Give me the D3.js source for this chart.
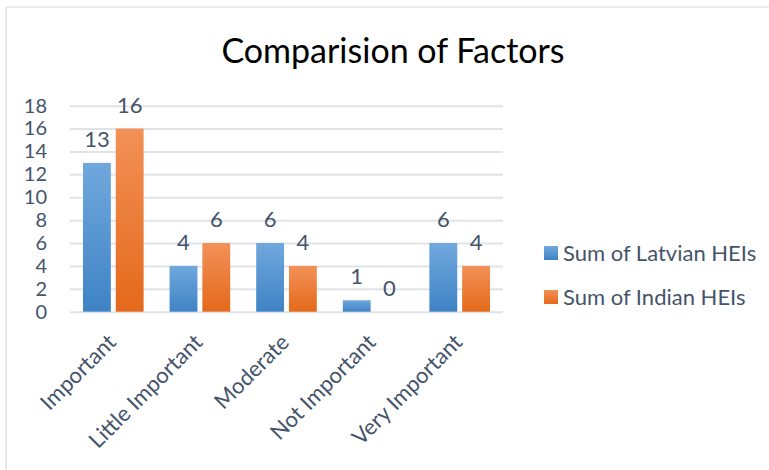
<!DOCTYPE html>
<html><head><meta charset="utf-8">
<script src="https://cdn.jsdelivr.net/npm/d3@7"></script>
<style>
html,body{margin:0;padding:0;background:#fff;}
svg{display:block;font-family:Lato,"Open Sans",sans-serif;}
</style></head>
<body>
<svg id="chart" width="769" height="470"></svg>
<script>
const categories = ["Important","Little Important","Moderate","Not Important","Very Important"];
const seriesNames = ["Sum of Latvian HEIs","Sum of Indian HEIs"];
const latvian = [13,4,6,1,6];
const indian = [16,6,4,0,4];
const yTicks = [0,2,4,6,8,10,12,14,16,18];
const titleText = "Comparision of Factors";

const svg = d3.select("#chart");
const x0 = d3.scaleBand().domain(categories).range([70,503]).paddingInner(0.3).paddingOuter(0.15);
const x1 = d3.scaleBand().domain(seriesNames).range([0, x0.bandwidth()]).paddingInner(0.15);
const y = d3.scaleLinear().domain([0,18]).range([311.7,105.7]);
const textCol = "#44546a";
const fs = 22;

// frame
svg.append("line").attr("x1",6).attr("x2",6).attr("y1",7).attr("y2",470).attr("stroke","#e4e7ec").attr("stroke-width",2);
svg.append("line").attr("x1",6).attr("x2",769).attr("y1",7).attr("y2",7).attr("stroke","#e4e7ec").attr("stroke-width",1.5);

const defs = svg.append("defs");
const grads = [["gBlue","#70a8dd","#3f83c5"],["gOrange","#f29157","#e4691b"]];
grads.forEach(([id,c1,c2])=>{
  const g = defs.append("linearGradient").attr("id",id).attr("x1",0).attr("x2",0).attr("y1",0).attr("y2",1);
  g.append("stop").attr("offset","0%").attr("stop-color",c1);
  g.append("stop").attr("offset","100%").attr("stop-color",c2);
});
const fills = {[seriesNames[0]]:"url(#gBlue)",[seriesNames[1]]:"url(#gOrange)"};

// title
svg.append("text").attr("x",393).attr("y",63).attr("text-anchor","middle")
  .attr("font-size",34).attr("fill","#000").text(titleText);

// y axis
const yAxis = d3.axisLeft(y).tickValues(yTicks).tickSize(-(503-70)).tickPadding(23);
const gy = svg.append("g").attr("transform","translate(70,0)").call(yAxis);
gy.select(".domain").remove();
gy.selectAll(".tick line").attr("stroke","#e0e4e9").attr("stroke-width",2);
gy.selectAll(".tick text").attr("font-size",20).attr("fill",textCol).attr("font-family","Lato, sans-serif");

// x axis labels
const xAxis = d3.axisBottom(x0).tickSize(0).tickPadding(0);
const gx = svg.append("g").attr("transform","translate(0,311.7)").call(xAxis);
gx.select(".domain").remove();
gx.selectAll(".tick text")
  .attr("font-size",fs).attr("fill",textCol).attr("font-family","Lato, sans-serif")
  .attr("text-anchor","end").attr("dy",0).attr("y",0)
  .attr("transform","translate(4,32) rotate(-45)");

// bars
const data = categories.map((c,i)=>({cat:c, vals:[{s:seriesNames[0],v:latvian[i]},{s:seriesNames[1],v:indian[i]}]}));
const groups = svg.append("g").selectAll("g").data(data).join("g")
  .attr("transform",d=>`translate(${x0(d.cat)},0)`);
groups.selectAll("rect").data(d=>d.vals).join("rect")
  .attr("x",d=>x1(d.s)).attr("width",x1.bandwidth())
  .attr("y",d=>y(d.v)).attr("height",d=>y(0)-y(d.v))
  .attr("fill",d=>fills[d.s]);
groups.selectAll("text").data(d=>d.vals).join("text")
  .attr("x",d=>x1(d.s)+x1.bandwidth()/2).attr("y",d=>y(d.v)-16)
  .attr("text-anchor","middle").attr("font-size",fs).attr("fill",textCol)
  .text(d=>d.v);

// legend
const leg = svg.append("g");
seriesNames.forEach((s,i)=>{
  const yy = 253 + i*44;
  leg.append("rect").attr("x",544).attr("y",yy-7).attr("width",14).attr("height",14).attr("fill",fills[s]);
  leg.append("text").attr("x",563).attr("y",yy+8).attr("font-size",fs).attr("fill",textCol).text(s);
});
</script>
</body></html>
